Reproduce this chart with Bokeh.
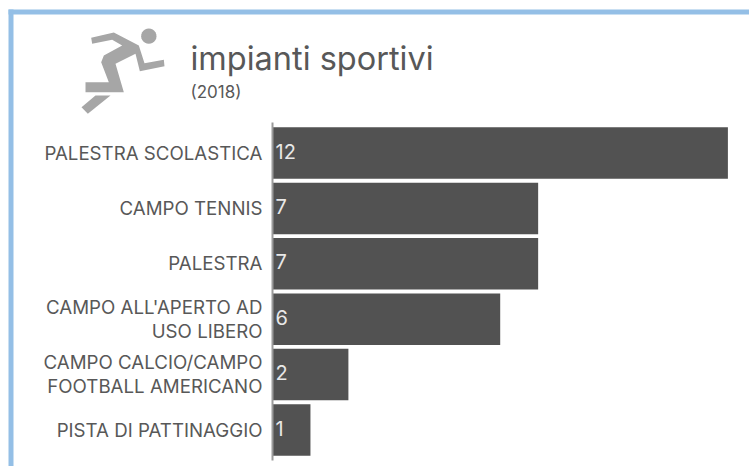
import math
from bokeh.plotting import figure
from bokeh.models import BoxAnnotation, Label, PolyAnnotation, Range1d, ColumnDataSource, FixedTicker
from bokeh.core.properties import value
from bokeh.embed import file_html
from bokeh.resources import INLINE

categories = ["PALESTRA SCOLASTICA", "CAMPO TENNIS", "PALESTRA",
              "CAMPO ALL'APERTO AD\nUSO LIBERO", "CAMPO CALCIO/CAMPO\nFOOTBALL AMERICANO",
              "PISTA DI PATTINAGGIO"]
values = [12, 7, 7, 6, 2, 1]
title_text = "impianti sportivi"
subtitle_text = "(2018)"

FONT = "Inter"
TEXT = "#585858"
W, H = 749, 466


def sy(y):
    return H - y


positions = list(range(len(categories)))
src = ColumnDataSource(dict(pos=positions, val=values, zero=[0] * len(values),
                            lab=[str(v) for v in values]))
p = figure(width=W, height=H, output_backend="svg", toolbar_location=None,
           x_range=Range1d(-272 / 37.95, 477 / 37.95),
           y_range=Range1d((H - 152.5) / 55.4, -152.5 / 55.4),
           min_border_left=0, min_border_right=0, min_border_top=0, min_border_bottom=0,
           outline_line_color=None, background_fill_color="white", border_fill_color="white")
p.hbar(y="pos", left="zero", right="val", height=0.93, source=src, fill_color="#525252", line_color=None)
p.text(x="zero", y="pos", text="lab", source=src, x_offset=3, y_offset=-2, text_color="#e8e8e8",
       text_font=value(FONT), text_font_size="20px", text_baseline="middle", text_align="left")

p.xaxis.visible = False
p.xgrid.visible = False
p.ygrid.visible = False
ax = p.yaxis[0]
ax.fixed_location = 0
ax.bounds = (-0.55, 5.55)
ax.ticker = FixedTicker(ticks=positions)
ax.major_label_overrides = {i: c for i, c in enumerate(categories)}
ax.axis_line_color = "#9a9a9a"
ax.axis_line_width = 2
ax.major_tick_line_color = None
ax.minor_tick_line_color = None
ax.major_tick_out = 0
ax.major_tick_in = 0
ax.major_label_standoff = 10
ax.major_label_text_font = FONT
ax.major_label_text_font_size = "18.7px"
ax.major_label_text_color = TEXT
ax.major_label_text_line_height = 1.05

# frame of the card
p.add_layout(BoxAnnotation(left=8, right=W, top=sy(9), bottom=sy(14), left_units="screen", right_units="screen",
                           top_units="screen", bottom_units="screen", fill_color="#94bfe6", fill_alpha=1, line_color=None))
p.add_layout(BoxAnnotation(left=8, right=13, top=sy(9), bottom=sy(H), left_units="screen", right_units="screen",
                           top_units="screen", bottom_units="screen", fill_color="#94bfe6", fill_alpha=1, line_color=None))

# runner icon (pixel outline of a decoration, not data)
body = [(272, 112), (275, 130), (335, 118), (365, 135), (310, 165), (302, 185), (325, 245), (255, 245), (255, 275),
        (370, 275), (345, 190), (405, 160), (418, 212), (492, 197), (490, 178), (432, 188), (415, 135), (340, 96)]
foot = [(243, 320), (285, 285), (330, 285), (262, 340)]
head = [(445 + 23 * math.cos(a / 24 * 2 * math.pi), 107 + 23 * math.sin(a / 24 * 2 * math.pi)) for a in range(24)]
for shape in (body, foot, head):
    p.add_layout(PolyAnnotation(xs=[x / 3 for x, _ in shape], ys=[sy(y / 3) for _, y in shape],
                                xs_units="screen", ys_units="screen",
                                fill_color="#a6a6a6", fill_alpha=1, line_color=None))

p.add_layout(Label(x=190, y=sy(58), x_units="screen", y_units="screen", text=title_text,
                   text_font=FONT, text_font_size="32.5px", text_color=TEXT, text_baseline="alphabetic"))
p.add_layout(Label(x=190, y=sy(91), x_units="screen", y_units="screen", text=subtitle_text,
                   text_font=FONT, text_font_size="17px", text_color=TEXT, text_baseline="alphabetic"))

open("out.html", "w").write(file_html(p, INLINE))
